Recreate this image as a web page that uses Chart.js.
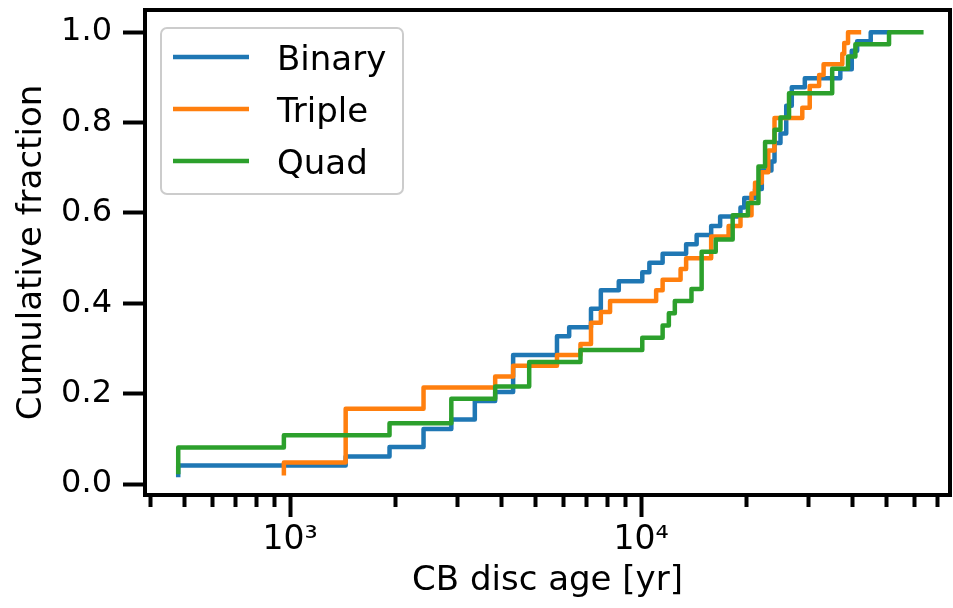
<!DOCTYPE html>
<html lang="en">
<head>
<meta charset="UTF-8">
<title>CB disc age cumulative fraction</title>
<script src="https://cdn.jsdelivr.net/npm/chart.js@4"></script>
<style>
  body { margin: 0; background: #fff; }
  #wrap { width: 953px; height: 608px; }
</style>
</head>
<body>
<div id="wrap"><canvas id="cdf" width="953" height="608"></canvas></div>
<script>
// step positions (age in yr) and the cumulative fraction reached there
const seriesNames = ['Binary', 'Triple', 'Quad'];
const seriesColors = ['#1f77b4', '#ff7f0e', '#2ca02c'];

const binaryAge = [480, 480, 1440, 1920, 2400, 2880, 3360, 3840, 4320, 5760, 6240, 7200, 7680, 8640,
  10080, 10560, 11520, 13440, 14400, 15840, 16800, 19200, 19680, 21120, 22080, 23520, 24000, 24960,
  25920, 26880, 29280, 36960, 39840, 41280, 45120, 50880];
const binaryFrac = [0.020, 0.041, 0.061, 0.082, 0.122, 0.143, 0.184, 0.204, 0.286, 0.327, 0.347, 0.388,
  0.429, 0.449, 0.469, 0.490, 0.510, 0.531, 0.551, 0.571, 0.592, 0.612, 0.633, 0.653, 0.694, 0.714,
  0.755, 0.776, 0.837, 0.878, 0.898, 0.918, 0.959, 0.980, 1.000, 1.000];

const tripleAge = [960, 960, 1440, 2400, 3840, 4320, 5760, 6720, 7200, 7680, 8160, 11040, 11520, 12960,
  13440, 15840, 17760, 19200, 20640, 21120, 22080, 23040, 24000, 28800, 30240, 32160, 33120, 37440,
  37920, 38880, 41760];
const tripleFrac = [0.024, 0.048, 0.167, 0.214, 0.238, 0.262, 0.286, 0.310, 0.357, 0.381, 0.405, 0.429,
  0.452, 0.476, 0.500, 0.548, 0.571, 0.595, 0.643, 0.667, 0.690, 0.738, 0.810, 0.833, 0.881, 0.905,
  0.929, 0.952, 0.976, 1.000, 1.000];

const quadAge = [480, 480, 960, 1920, 2880, 3840, 4800, 6720, 10080, 11520, 12000, 12480, 13920, 14880,
  16320, 18240, 20160, 21600, 22560, 24000, 24960, 26400, 35040, 38880, 40800, 50880, 62880];
const quadFrac = [0.027, 0.081, 0.108, 0.135, 0.189, 0.216, 0.270, 0.297, 0.324, 0.351, 0.378, 0.405,
  0.432, 0.514, 0.541, 0.595, 0.622, 0.703, 0.757, 0.784, 0.811, 0.865, 0.919, 0.946, 0.973, 1.000, 1.000];

const xMinorTicks = [400, 500, 600, 700, 800, 900, 2000, 3000, 4000, 5000, 6000, 7000, 8000, 9000,
  20000, 30000, 40000, 50000, 60000, 70000];
const xMajorTicks = [1000, 10000];
const xMajorLabels = ['10³', '10⁴'];
const yTicks = [0, 0.2, 0.4, 0.6, 0.8, 1.0];

Chart.defaults.font.family = '"DejaVu Sans", sans-serif';
Chart.defaults.color = '#000';

function toPoints(ages, fracs) {
  return ages.map((a, i) => ({ x: a, y: fracs[i] }));
}

const frame = {
  id: 'frame',
  afterDatasetsDraw(chart) {
    const { ctx, chartArea: a } = chart;
    ctx.save();
    ctx.strokeStyle = '#000';
    ctx.lineWidth = 4;
    ctx.strokeRect(a.left, a.top, a.right - a.left, a.bottom - a.top);
    ctx.restore();
  }
};

// legend box in the upper-left corner of the plot
const boxLegend = {
  id: 'boxLegend',
  afterDraw(chart) {
    const { ctx, chartArea: a } = chart;
    const x = a.left + 16, y = a.top + 18, w = 242, h = 166, r = 6;
    ctx.save();
    ctx.beginPath();
    ctx.moveTo(x + r, y);
    ctx.arcTo(x + w, y, x + w, y + h, r);
    ctx.arcTo(x + w, y + h, x, y + h, r);
    ctx.arcTo(x, y + h, x, y, r);
    ctx.arcTo(x, y, x + w, y, r);
    ctx.closePath();
    ctx.fillStyle = 'rgba(255,255,255,0.8)';
    ctx.fill();
    ctx.strokeStyle = '#cccccc';
    ctx.lineWidth = 2;
    ctx.stroke();
    ctx.font = '34px "DejaVu Sans"';
    ctx.textBaseline = 'alphabetic';
    ctx.textAlign = 'left';
    chart.data.datasets.forEach((ds, i) => {
      const ly = y + 29 + i * 52;
      ctx.strokeStyle = ds.borderColor;
      ctx.lineWidth = 4.5;
      ctx.beginPath();
      ctx.moveTo(x + 12, ly);
      ctx.lineTo(x + 88, ly);
      ctx.stroke();
      ctx.fillStyle = '#000';
      ctx.fillText(ds.label, x + 116, ly + 12.5);
    });
    ctx.restore();
  }
};

const sets = [[binaryAge, binaryFrac], [tripleAge, tripleFrac], [quadAge, quadFrac]];

new Chart(document.getElementById('cdf'), {
  type: 'line',
  data: {
    datasets: sets.map((s, i) => ({
      label: seriesNames[i],
      data: toPoints(s[0], s[1]),
      borderColor: seriesColors[i],
      backgroundColor: seriesColors[i],
      borderWidth: 4.5,
      pointRadius: 0,
      stepped: true,
      fill: false,
      borderJoinStyle: 'round',
      borderCapStyle: 'square',
      order: 2 - i
    }))
  },
  options: {
    responsive: false,
    animation: false,
    layout: { padding: { top: 10, right: 3, left: 0, bottom: 0 } },
    plugins: { legend: { display: false }, tooltip: { enabled: false } },
    scales: {
      x: {
        type: 'logarithmic', position: 'bottom', min: 386, max: 75900, weight: 0,
        afterBuildTicks: s => { s.ticks = xMinorTicks.map(v => ({ value: v })); },
        ticks: { display: false },
        grid: { drawOnChartArea: false, tickLength: 12, tickWidth: 4, tickColor: '#000' },
        border: { display: false },
        afterFit: s => { s.height = 0; s.paddingLeft = 0; s.paddingRight = 0; }
      },
      x2: {
        type: 'logarithmic', position: 'bottom', min: 386, max: 75900, weight: 1,
        afterBuildTicks: s => { s.ticks = xMajorTicks.map(v => ({ value: v })); },
        ticks: { font: { size: 33 }, padding: 4, autoSkip: false, maxRotation: 0,
                 callback: (v, i) => xMajorLabels[i] },
        grid: { drawOnChartArea: false, tickLength: 22, tickWidth: 4, tickColor: '#000' },
        border: { display: false },
        title: { display: true, text: 'CB disc age [yr]', font: { size: 34 },
                 padding: { top: 0, bottom: 6 } },
        afterFit: s => { s.height = 113; s.paddingLeft = 0; s.paddingRight = 0; }
      },
      y: {
        type: 'linear', min: -0.024, max: 1.049,
        afterBuildTicks: s => { s.ticks = yTicks.map(v => ({ value: v })); },
        ticks: { font: { size: 32 }, padding: 11, callback: v => v.toFixed(1) },
        grid: { drawOnChartArea: false, tickLength: 22, tickWidth: 4, tickColor: '#000' },
        border: { display: false },
        title: { display: true, text: 'Cumulative fraction', font: { size: 34 },
                 padding: { top: 12, bottom: 0 } },
        afterFit: s => { s.width = 145; s.paddingTop = 0; s.paddingBottom = 0; }
      }
    }
  },
  plugins: [frame, boxLegend]
});
</script>
</body>
</html>
